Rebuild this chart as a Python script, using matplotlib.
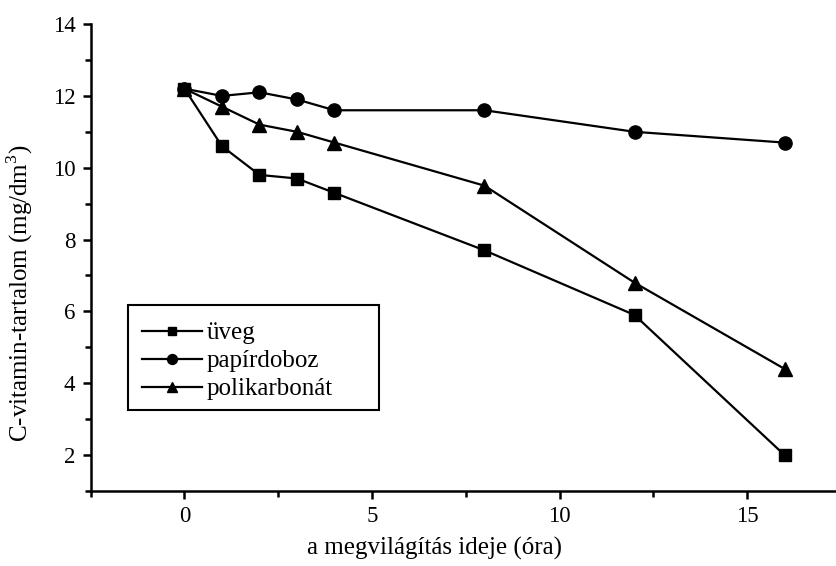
import matplotlib
matplotlib.use("Agg")
import matplotlib.pyplot as plt
from matplotlib.patches import Rectangle
from matplotlib.ticker import MultipleLocator

# ── Data ──────────────────────────────────────────────────────────────────────
hours = [0, 1, 2, 3, 4, 8, 12, 16]
uveg = [12.2, 10.6, 9.8, 9.7, 9.3, 7.7, 5.9, 2.0]
papirdoboz = [12.2, 12.0, 12.1, 11.9, 11.6, 11.6, 11.0, 10.7]
polikarbonat = [12.2, 11.7, 11.2, 11.0, 10.7, 9.5, 6.8, 4.4]

series = [
    ("üveg", uveg, "s", 8),
    ("papírdoboz", papirdoboz, "o", 9.5),
    ("polikarbonát", polikarbonat, "^", 10.5),
]

# ── Style ─────────────────────────────────────────────────────────────────────
plt.rcParams["font.family"] = ["Liberation Serif", "DejaVu Serif"]
plt.rcParams["mathtext.fontset"] = "custom"
plt.rcParams["mathtext.rm"] = "Liberation Serif"

fig = plt.figure(figsize=(8.36, 5.66), dpi=100)
ax = fig.add_axes([0.1085, 0.1325, 0.8905, 0.825])

for label, vals, marker, ms in series:
    ax.plot(hours, vals, color="black", linewidth=1.6, marker=marker,
            markersize=ms, label=label)

ax.set_xlim(-2.5, 17.35)
ax.set_ylim(1.0, 14)
ax.xaxis.set_major_locator(MultipleLocator(5))
ax.xaxis.set_minor_locator(MultipleLocator(2.5))
ax.yaxis.set_major_locator(MultipleLocator(2))
ax.yaxis.set_minor_locator(MultipleLocator(1))
ax.set_yticks(range(2, 15, 2))

for s in ("top", "right"):
    ax.spines[s].set_visible(False)
for s in ("left", "bottom"):
    ax.spines[s].set_linewidth(1.8)

ax.tick_params(which="major", direction="out", length=6, width=1.8,
               labelsize=16.5, pad=5)
ax.tick_params(which="minor", direction="out", length=4, width=1.8)

ax.set_xlabel("a megvilágítás ideje (óra)", fontsize=18)
ax.set_ylabel("C-vitamin-tartalom (mg/dm$^3$)", fontsize=18)
ax.xaxis.set_label_coords(0.462, -0.098)
ax.yaxis.set_label_coords(-0.075, 0.424)

# legend without frame, box drawn separately (wider than the text)
leg = ax.legend(loc="center left", bbox_to_anchor=(0.0685, 0.278),
                borderaxespad=0, borderpad=0, fontsize=18, frameon=False,
                handlelength=2.4, handletextpad=0.2, labelspacing=0.22,
                markerscale=0.75)
ax.add_patch(Rectangle((0.0497, 0.173), 0.337, 0.225, transform=ax.transAxes,
                       fill=False, edgecolor="black", linewidth=1.5,
                       clip_on=False))

fig.savefig("out.png", dpi=100)
